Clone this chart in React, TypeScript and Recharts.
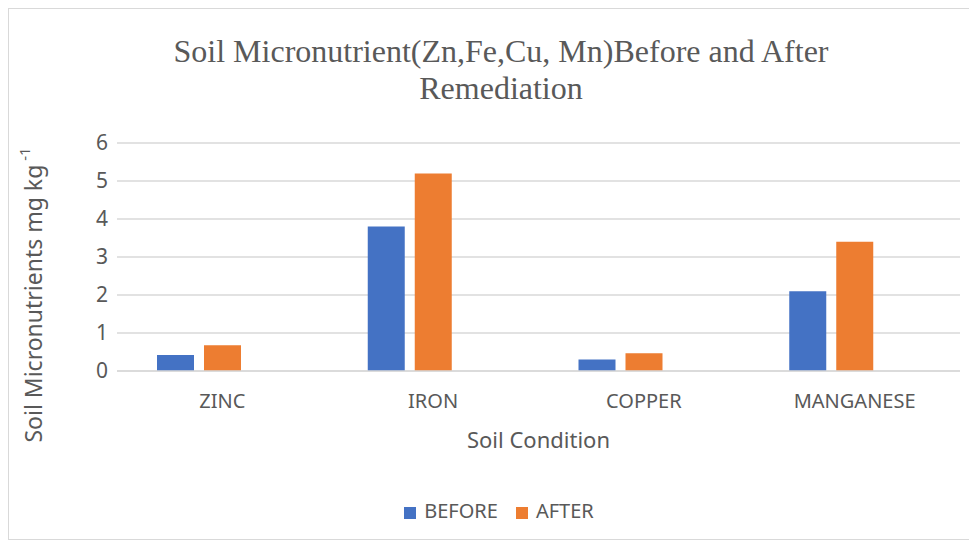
import React from "react"
import { BarChart, Bar, XAxis, YAxis, CartesianGrid, Legend } from "recharts"

const categories = ["ZINC", "IRON", "COPPER", "MANGANESE"]
const before = [0.42, 3.8, 0.3, 2.1]
const after = [0.68, 5.2, 0.47, 3.4]
const yTicks = [0, 1, 2, 3, 4, 5, 6]
const seriesOrder = ["BEFORE", "AFTER"]

const data = categories.map((name, i) => ({
  name,
  BEFORE: before[i],
  AFTER: after[i],
}))

const grey = "#595959"
const sans = "'Noto Sans', 'Open Sans', sans-serif"

const YTitle = (props: any) => {
  const { viewBox } = props
  const cx = 24
  const cy = viewBox.y + viewBox.height / 2 + 38
  return (
    <text
      x={cx}
      y={cy}
      transform={`rotate(-90, ${cx}, ${cy})`}
      textAnchor="middle"
      dominantBaseline="central"
      fill={grey}
      fontSize={23}
      fontFamily={sans}
    >
      Soil Micronutrients mg kg
      <tspan fontSize={15} dy={-9}> -1</tspan>
    </text>
  )
}

const XTitle = (props: any) => {
  const { viewBox } = props
  return (
    <text
      x={viewBox.x + viewBox.width / 2}
      y={439}
      textAnchor="middle"
      fill={grey}
      fontSize={22}
      fontFamily={sans}
    >
      Soil Condition
    </text>
  )
}

export default function App() {
  return (
    <div
      style={{
        position: "relative",
        width: 968,
        height: 530,
        border: "1px solid #d9d9d9",
        background: "#fff",
        fontFamily: sans,
      }}
    >
      <div
        style={{
          position: "absolute",
          top: 24,
          left: 0,
          width: 984,
          textAlign: "center",
          fontFamily: "'Liberation Serif', 'Times New Roman', serif",
          fontSize: 32,
          lineHeight: "37px",
          color: grey,
          zIndex: 1,
        }}
      >
        Soil Micronutrient(Zn,Fe,Cu, Mn)Before and After
        <br />
        Remediation
      </div>
      <BarChart
        width={966}
        height={528}
        data={data}
        margin={{ top: 107, right: 15, bottom: 100, left: 0 }}
        barCategoryGap={40}
        barGap={10}
      >
        <CartesianGrid vertical={false} stroke="#d9d9d9" strokeWidth={1.5} />
        <XAxis
          dataKey="name"
          tickLine={false}
          axisLine={{ stroke: "#d9d9d9", strokeWidth: 1.5 }}
          tickSize={0}
          tickMargin={23}
          tick={{ fill: grey, fontSize: 20, fontFamily: sans }}
          height={66}
          label={<XTitle />}
        />
        <YAxis
          domain={[0, 6]}
          ticks={yTicks}
          width={108}
          tickLine={false}
          axisLine={false}
          tickSize={0}
          tickMargin={9}
          tick={{ fill: grey, fontSize: 21, fontFamily: sans }}
          label={<YTitle />}
        />
        <Legend
          verticalAlign="top"
          align="center"
          iconType="square"
          iconSize={12}
          itemSorter={(item: any) => seriesOrder.indexOf(item.value)}
          wrapperStyle={{ top: 488, left: 16, width: 966, fontSize: 20, fontFamily: sans }}
          formatter={(value: string) => (
            <span style={{ color: grey, marginLeft: 4, marginRight: 8 }}>{value}</span>
          )}
        />
        <Bar dataKey="BEFORE" fill="#4472C4" isAnimationActive={false} />
        <Bar dataKey="AFTER" fill="#ED7D31" isAnimationActive={false} />
        <Bar dataKey="spacer" legendType="none" fill="none" isAnimationActive={false} />
      </BarChart>
    </div>
  )
}
